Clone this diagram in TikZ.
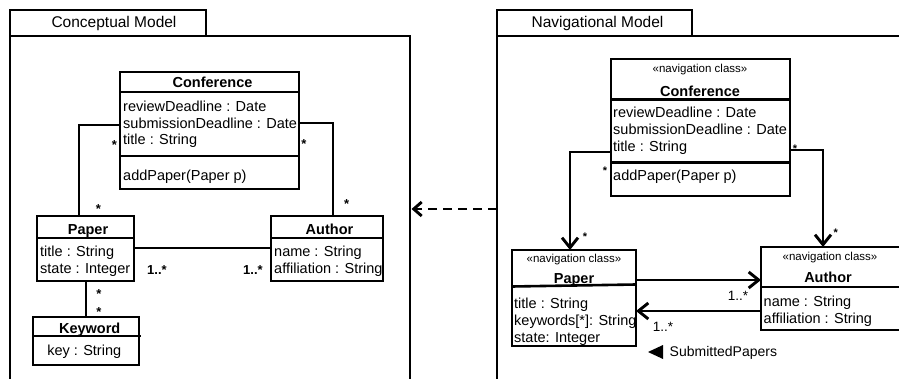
\documentclass[tikz,border=0pt]{standalone}
\usepackage{fontspec}
\setmainfont{Liberation Sans}
\usetikzlibrary{arrows.meta,calc}
\begin{document}
\begin{tikzpicture}[x=1pt,y=-1pt,
  box/.style={draw, line width=2.8pt, rectangle, inner sep=0pt, outer sep=0pt, anchor=north west},
  pkgbox/.style={draw, line width=2.9pt, rectangle, inner sep=0pt, outer sep=0pt, anchor=north west},
  divline/.style={line width=2.6pt},
  txt/.style={inner sep=0pt, anchor=base west, font=\fontsize{14.5}{17}\selectfont},
  ttl/.style={inner sep=0pt, anchor=base, font=\bfseries\fontsize{14.5}{17}\selectfont},
  tabtxt/.style={inner sep=0pt, anchor=base, font=\fontsize{15.5}{18}\selectfont},
  stereo/.style={inner sep=0pt, anchor=base, font=\fontsize{11.5}{13}\selectfont},
  mult/.style={inner sep=0pt, anchor=base, font=\bfseries\fontsize{13}{15}\selectfont},
  smult/.style={inner sep=0pt, anchor=base, font=\bfseries\fontsize{11}{13}\selectfont},
  rmult/.style={inner sep=0pt, anchor=base, font=\fontsize{13.5}{15}\selectfont},
  conn/.style={line width=2.9pt},
  nav/.style={conn, -{Straight Barb[length=10pt,width=16pt,line width=2.9pt]}},
  dep/.style={conn, dash pattern=on 9pt off 6pt, -{Straight Barb[length=8pt,width=14pt,line width=2.9pt]}}
]
\useasboundingbox (0,0) rectangle (899,379);
\clip (0,0) rectangle (899,379);
\fill[white] (0,0) rectangle (899,379);

% ---------- packages ----------
\node[pkgbox, minimum width=400pt, minimum height=380pt] (lpkg) at (10,36) {};
\node[pkgbox, minimum width=196pt, minimum height=26pt] (ltab) at (10,10) {};
\node[tabtxt] (ltabt) at (114,27.8) {Conceptual Model};

\node[pkgbox, minimum width=420pt, minimum height=380pt] (rpkg) at (497,36) {};
\node[pkgbox, minimum width=195pt, minimum height=26pt] (rtab) at (497,10) {};
\node[tabtxt] (rtabt) at (597.5,28) {Navigational Model};

% ---------- conceptual model ----------
\node[box, minimum width=179pt, minimum height=117pt] (lconf) at (120,72) {};
\draw[divline] (120,92) -- (299,92);
\draw[divline] (120,156) -- (299,156);
\node[ttl] (lconft) at (212.5,88) {Conference};
\node[txt] (lc1) at (123,111.5) {reviewDeadline : Date};
\node[txt] (lc2) at (123,128.3) {submissionDeadline : Date};
\node[txt] (lc3) at (123,145) {title : String};
\node[txt] (lc4) at (123,181) {addPaper(Paper p)};

\node[box, minimum width=97pt, minimum height=65pt] (lpaper) at (37,216) {};
\draw[divline] (37,238) -- (134,238);
\node[ttl] (lpt) at (88,234.5) {Paper};
\node[txt] (lp1) at (40,256.5) {title : String};
\node[txt] (lp2) at (40,273) {state : Integer};

\node[box, minimum width=112pt, minimum height=65pt] (lauth) at (271,216) {};
\draw[divline] (271,238) -- (383,238);
\node[ttl] (lat) at (329.5,234.5) {Author};
\node[txt] (la1) at (274,256.5) {name : String};
\node[txt] (la2) at (274,273) {affiliation : String};

\node[box, minimum width=106pt, minimum height=48pt] (lkey) at (33,317) {};
\draw[divline] (33,336) -- (141,336);
\node[ttl] (lkt) at (89.7,333) {Keyword};
\node[txt, anchor=base] (lk1) at (84.2,355.5) {key : String};

\draw[conn] ($(lconf.north west)+(0,53)$) -| ($(lpaper.north west)+(42,0)$);
\draw[conn] ($(lconf.north east)+(0,51)$) -| ($(lauth.north west)+(62,0)$);
\draw[conn] ($(lpaper.north east)+(0,32)$) -- ($(lauth.north west)+(0,32)$);
\draw[conn] ($(lpaper.south west)+(49,0)$) -- ($(lkey.north west)+(53,0)$);

\node[mult] (m1) at (114.3,149.2) {*};
\node[mult] (m2) at (304,148.2) {*};
\node[mult] (m3) at (98.3,213.5) {*};
\node[mult] (m4) at (346.7,208.5) {*};
\node[mult] (m5) at (99,298.2) {*};
\node[mult] (m6) at (99,316.5) {*};
\node[mult] (m7) at (157,274) {1..*};
\node[mult] (m8) at (253,274) {1..*};

% ---------- navigational model ----------
\node[box, minimum width=179pt, minimum height=137pt] (rconf) at (611,59) {};
\draw[divline] (611,99.3) -- (790,99.3);
\draw[divline] (611,162.7) -- (790,162.7);
\node[stereo] (rcs) at (700,72.5) {«navigation class»};
\node[ttl] (rct) at (700,96.4) {Conference};
\node[txt] (rc1) at (613,117.5) {reviewDeadline : Date};
\node[txt] (rc2) at (613,134.3) {submissionDeadline : Date};
\node[txt] (rc3) at (613,151.5) {title : String};
\node[txt] (rc4) at (613,180.5) {addPaper(Paper p)};

\node[box, minimum width=124pt, minimum height=96pt] (rpaper) at (512,250) {};
\draw[divline] (512,286.5) -- (636,284.5);
\node[stereo] (rps) at (574,263) {«navigation class»};
\node[ttl] (rpt) at (574,283.5) {Paper};
\node[txt] (rp1) at (514,308.7) {title : String};
\node[txt] (rp2) at (514,325.4) {keywords[*]: String};
\node[txt] (rp3) at (514,342) {state: Integer};

\node[box, minimum width=139pt, minimum height=83pt] (rauth) at (761,247) {};
\draw[divline] (761,287) -- (900,287);
\node[stereo] (ras) at (830,261) {«navigation class»};
\node[ttl] (rat) at (828,282.5) {Author};
\node[txt] (ra1) at (763.5,306.4) {name : String};
\node[txt] (ra2) at (763.5,323) {affiliation : String};

\draw[nav] ($(rconf.north west)+(0,93)$) -| ($(rpaper.north west)+(58,0)$);
\draw[nav] ($(rconf.north east)+(0,91)$) -| ($(rauth.north west)+(62,0)$);
\draw[nav] ($(rpaper.north east)+(0,30)$) -- ($(rauth.north west)+(0,33)$);
\draw[nav] ($(rauth.north west)+(0,64)$) -- ($(rpaper.north east)+(0,61)$);

\node[smult] (n1) at (605,174.7) {*};
\node[smult] (n2) at (585,240.4) {*};
\node[smult] (n3) at (795,152.4) {*};
\node[smult] (n4) at (835.7,236.4) {*};
\node[rmult] (n5) at (738,300.7) {1..*};
\node[rmult] (n6) at (663,331.5) {1..*};

\fill (663,345) -- (663,359) -- (648,352) -- cycle;
\node[txt, font=\fontsize{14}{16}\selectfont] (sp) at (669.5,356) {SubmittedPapers};

% ---------- dependency ----------
\draw[dep] ($(rpkg.north west)+(0,173)$) -- ($(lpkg.north east)+(1.5,173)$);
\end{tikzpicture}
\end{document}
